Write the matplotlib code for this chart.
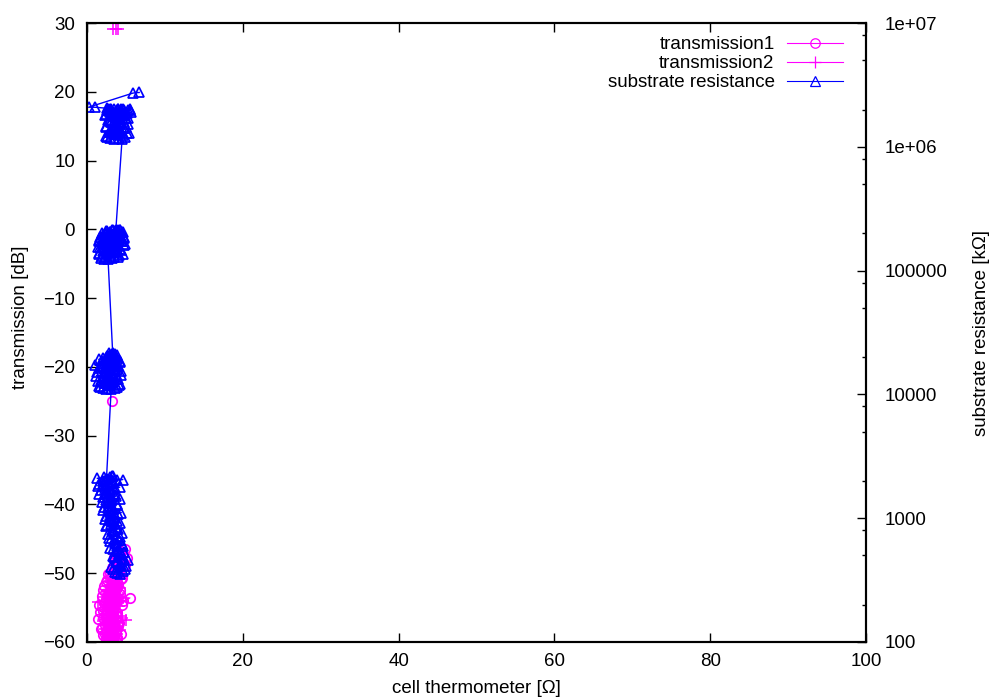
import numpy as np
import matplotlib
matplotlib.use("Agg")
import matplotlib.pyplot as plt
from matplotlib.ticker import LogLocator, NullFormatter, FixedLocator, FixedFormatter

plt.rcParams["font.family"] = ["Liberation Sans", "DejaVu Sans"]
plt.rcParams["font.size"] = 13.5

MAGENTA = "#ff00ff"
BLUE = "#0000ff"

# transmission1 [dB] vs cell thermometer [Ohm]
t1_x = [4.9, 4.2, 3.7, 5.1, 4.4, 3.9, 4.7, 3.3, 4.1, 2.9, 3.6, 4.5, 2.6, 3.2, 4.0, 2.2,
        3.5, 4.3, 2.8, 3.0, 1.9, 3.8, 2.4, 4.6, 3.1, 1.6, 2.7, 3.4, 5.5, 2.0, 3.9, 2.5,
        3.3, 1.4, 2.9, 4.1, 2.3, 3.6, 1.8, 3.0, 2.6, 4.4, 2.1, 3.5, 2.8, 3.8, 2.4, 3.2,
        2.7, 3.9, 2.6, 3.4, 4.0, 2.9, 3.1,
        4.0, 4.6, 3.5, 4.3, 3.8, 4.9, 3.2, 4.1, 2.7, 3.7, 4.4, 2.4, 3.1, 3.9, 2.0, 3.4,
        4.2, 2.6, 3.0, 3.6, 2.2, 4.5, 2.8, 3.3, 1.7, 2.5, 3.8, 2.1, 3.1, 4.0, 2.7, 3.5,
        1.9, 2.9, 3.7, 2.3, 3.2, 3.9, 2.8, 3.4]
t1_db = [-46.5, -47.0, -47.4, -47.8, -48.2, -48.6, -49.0, -49.3, -49.7, -50.0, -50.4,
         -50.7, -51.0, -51.3, -51.6, -51.9, -52.2, -52.5, -52.8, -53.1, -53.3, -53.5,
         -53.8, -54.1, -54.4, -54.6, -54.9, -55.2, -53.6, -55.5, -55.8, -56.1, -56.4,
         -56.7, -57.0, -57.2, -57.5, -57.8, -58.1, -58.3, -58.6, -58.8, -59.0, -59.2,
         -59.4, -59.5, -59.7, -59.8, -59.9, -59.6, -59.1, -58.5, -57.6, -56.9, -55.9,
         -46.8, -47.2, -47.6, -48.0, -48.4, -48.8, -49.2, -49.6, -50.1, -50.5, -50.9,
         -51.3, -51.7, -52.1, -52.4, -52.7, -53.0, -53.3, -53.7, -54.0, -54.3, -54.6,
         -55.0, -55.3, -55.6, -55.9, -56.2, -56.5, -56.8, -57.1, -57.4, -57.7, -58.0,
         -58.3, -58.6, -58.9, -59.2, -59.4, -59.7, -59.9]
t1_out_x = [3.2]
t1_out_db = [-25.0]

# transmission2 [dB]
t2_x = [4.6, 4.0, 3.6, 4.8, 4.3, 3.8, 3.4, 4.5, 3.1, 3.9, 2.8, 4.2, 3.3, 2.5, 3.7, 4.6,
        2.9, 2.2, 3.5, 4.1, 2.7, 1.4, 3.2, 3.8, 2.4, 4.4, 3.0, 2.0, 3.6, 2.6, 5.0, 3.3,
        2.3, 3.9, 2.8, 3.5, 4.2, 3.1, 2.6, 3.7, 3.4, 2.9, 4.0,
        4.3, 3.9, 4.7, 3.5, 4.1, 3.2, 3.7, 4.4, 2.9, 3.4, 4.0, 2.6, 3.1, 3.8, 2.3, 3.3,
        4.3, 2.7, 3.0, 3.6, 2.1, 3.9, 2.5, 3.2, 4.5, 2.8, 3.5, 2.2, 3.0, 3.7, 2.6, 3.3,
        3.9, 2.9, 3.6]
t2_db = [-47.0, -47.6, -48.1, -48.6, -49.1, -49.6, -50.1, -50.5, -51.0, -51.4, -51.8,
         -52.2, -52.6, -53.0, -53.3, -53.6, -54.0, -54.2, -54.5, -54.8, -55.1, -54.2,
         -55.4, -55.7, -56.0, -56.3, -56.6, -56.9, -57.2, -57.5, -56.8, -57.8, -58.1,
         -58.4, -58.7, -59.0, -58.2, -59.3, -59.5, -59.7, -59.9, -59.0, -58.0,
         -47.3, -47.8, -48.3, -48.8, -49.3, -49.8, -50.3, -50.8, -51.2, -51.6, -52.0,
         -52.4, -52.8, -53.2, -53.5, -53.8, -54.1, -54.4, -54.7, -55.0, -55.3, -55.6,
         -55.9, -56.2, -56.5, -56.8, -57.1, -57.4, -57.7, -58.0, -58.3, -58.6, -58.9,
         -59.2, -59.5]
t2_out_x = [3.4, 3.7, 4.0]
t2_out_db = [29.1, 29.1, 29.1]

# substrate resistance [kOhm], four plateaus plus a few stray points
r4_x = [3.9, 4.6, 3.4, 5.0, 4.2, 3.7, 4.8, 3.3, 4.4, 4.0, 3.0, 4.6, 3.6, 4.1, 2.8, 3.9,
        4.5, 3.2, 3.7, 2.6, 4.3, 3.0, 3.5, 2.4, 4.0, 2.9, 3.3, 2.2, 3.8, 2.7, 3.1, 4.3,
        2.0, 3.5, 2.5, 3.0, 1.8, 3.6, 2.3, 2.8, 1.5, 3.3, 2.1, 4.6, 2.6, 1.3, 3.0, 2.2,
        3.4, 3.2,
        4.2, 3.6, 4.9, 3.1, 4.4, 3.8, 5.2, 3.5, 4.1, 4.7, 3.3, 3.9, 4.5, 3.0, 3.6, 4.2,
        2.7, 3.4, 4.0, 2.5, 3.1, 3.8, 2.3, 2.9, 3.6, 4.4, 2.1, 2.7, 3.2, 3.9, 1.9, 2.5,
        3.0, 3.7, 1.6, 2.4, 2.9, 3.5, 4.2, 1.4, 2.0, 2.7, 3.3, 3.9, 2.5]
r4_k = [360, 375, 390, 410, 430, 450, 470, 495, 520, 545, 570, 600, 630, 660, 690, 720,
        760, 800, 840, 880, 920, 960, 1000, 1040, 1090, 1130, 1180, 1230, 1280, 1330,
        1380, 1430, 1480, 1530, 1580, 1630, 1690, 1750, 1800, 1850, 1900, 1950, 2000,
        2050, 2080, 2100, 2130, 2150, 2170, 2190,
        355, 370, 385, 400, 420, 440, 460, 485, 510, 535, 560, 590, 620, 650, 680, 710,
        745, 780, 820, 860, 900, 940, 980, 1020, 1060, 1110, 1160, 1210, 1260, 1310,
        1360, 1410, 1460, 1510, 1560, 1610, 1670, 1720, 1780, 1830, 1880, 1930, 1980,
        2030, 2080]
r3_x = [3.1, 2.0, 3.8, 1.5, 2.8, 4.3, 2.3, 3.4, 1.8, 4.0, 2.6, 3.2, 1.2, 3.7, 2.2, 4.4,
        2.9, 1.6, 3.5, 2.4, 1.0, 3.9, 2.7, 4.2, 1.9, 3.3, 2.5, 3.8, 2.1, 3.0, 3.6, 2.6,
        3.9, 3.2, 2.8,
        2.4, 3.6, 1.7, 3.0, 4.1, 2.2, 3.4, 1.4, 2.8, 3.9, 2.0, 3.3, 4.4, 2.5, 1.3, 3.1,
        3.8, 2.3, 4.0, 1.8, 2.9, 3.6, 2.1, 3.5, 4.3, 2.7, 1.5, 3.2, 2.4, 3.7, 2.8, 3.4,
        2.9, 3.6, 3.3]
r3_k = [11000, 11200, 11400, 11600, 11900, 12100, 12400, 12700, 13000, 13300, 13600,
        13900, 14200, 14600, 15000, 15400, 15800, 16200, 16600, 17000, 17300, 17600,
        17900, 18200, 18500, 18800, 19100, 19400, 19700, 20000, 20300, 20600, 20900,
        21200, 21500,
        11100, 11300, 11500, 11800, 12000, 12300, 12600, 12900, 13200, 13500, 13800,
        14100, 14400, 14800, 15200, 15600, 16000, 16400, 16800, 17100, 17400, 17700,
        18000, 18300, 18600, 18900, 19200, 19500, 19800, 20100, 20400, 20700, 21000,
        21300, 21400]
r2_x = [2.7, 1.8, 3.5, 2.3, 4.1, 1.6, 3.0, 3.8, 2.1, 4.4, 2.6, 1.4, 3.3, 4.7, 2.0, 3.9,
        2.8, 1.5, 4.5, 3.4, 2.2, 4.8, 1.7, 3.1, 4.2, 2.5, 3.7, 1.9, 4.6, 2.9, 3.6, 2.4,
        4.3, 3.2, 4.0,
        2.2, 3.2, 4.0, 1.9, 2.9, 4.6, 1.5, 3.6, 2.4, 4.2, 3.0, 1.7, 3.8, 2.6, 4.9, 2.1,
        3.4, 4.4, 1.6, 2.8, 3.9, 2.3, 4.7, 3.1, 2.0, 4.1, 2.7, 3.5, 4.5, 3.0, 3.8, 2.6,
        4.2, 3.4, 3.7]
r2_k = [124000, 126000, 128000, 130000, 133000, 136000, 139000, 142000, 145000, 148000,
        151000, 154000, 157000, 160000, 163000, 166000, 169000, 172000, 175000, 178000,
        181000, 184000, 187000, 190000, 193000, 196000, 199000, 202000, 204000, 206000,
        208000, 210000, 211000, 212000, 214000,
        125000, 127000, 129000, 131000, 134000, 137000, 140000, 143000, 146000, 149000,
        152000, 155000, 158000, 161000, 164000, 167000, 170000, 173000, 176000, 179000,
        182000, 185000, 188000, 191000, 194000, 197000, 200000, 203000, 205000, 207000,
        209000, 210500, 212000, 213000, 213500]
r1_x = [4.5, 3.0, 4.9, 2.5, 3.8, 5.1, 2.8, 4.2, 3.4, 4.7, 2.4, 3.9, 5.3, 3.1, 4.4, 2.7,
        5.0, 3.6, 4.1, 2.3, 4.8, 3.3, 5.6, 2.9, 4.3, 3.7, 5.2, 2.6, 4.0, 3.5, 5.5, 3.0,
        4.6, 2.7,
        3.5, 4.1, 2.6, 4.6, 3.2, 5.4, 2.9, 4.0, 3.6, 5.0, 2.5, 4.3, 3.3, 4.8, 2.8, 3.9,
        5.2, 3.0, 4.5, 2.4, 3.7, 5.1, 3.4, 4.2, 2.9, 4.7, 3.8, 5.5, 3.1, 4.4, 2.7, 4.0,
        2.6]
r1_k = [1.15e6, 1.17e6, 1.20e6, 1.23e6, 1.26e6, 1.29e6, 1.32e6, 1.35e6, 1.39e6, 1.42e6,
        1.46e6, 1.50e6, 1.54e6, 1.58e6, 1.62e6, 1.66e6, 1.70e6, 1.74e6, 1.78e6, 1.82e6,
        1.85e6, 1.88e6, 1.90e6, 1.92e6, 1.94e6, 1.96e6, 1.98e6, 2.00e6, 2.01e6, 2.02e6,
        2.03e6, 2.04e6, 2.03e6, 1.98e6,
        1.16e6, 1.18e6, 1.21e6, 1.24e6, 1.27e6, 1.30e6, 1.33e6, 1.37e6, 1.40e6, 1.44e6,
        1.48e6, 1.52e6, 1.56e6, 1.60e6, 1.64e6, 1.68e6, 1.72e6, 1.76e6, 1.80e6, 1.83e6,
        1.86e6, 1.89e6, 1.91e6, 1.93e6, 1.95e6, 1.97e6, 1.99e6, 2.00e6, 2.01e6, 2.02e6,
        2.03e6, 2.04e6, 2.05e6]
r_end_x = [1.0, 0.2, 5.9, 6.7]
r_end_k = [2.09e6, 2.09e6, 2.72e6, 2.75e6]

x_ticks = [0, 20, 40, 60, 80, 100]
y_ticks = [-60, -50, -40, -30, -20, -10, 0, 10, 20, 30]
y2_ticks = [1e2, 1e3, 1e4, 1e5, 1e6, 1e7]
y2_labels = ["100", "1000", "10000", "100000", "1e+06", "1e+07"]


def gap_join(xa, ya, xb, yb):
    # NaN break so the stray points are not joined to the main cloud
    return list(xa) + [np.nan] + list(xb), list(ya) + [np.nan] + list(yb)


fig = plt.figure(figsize=(10, 7), dpi=100)
ax = fig.add_axes([0.087, 0.083, 0.779, 0.884])
ax2 = ax.twinx()

mk = dict(markersize=6.8, markeredgewidth=1.25, linewidth=1.0)

x1, y1 = gap_join(t1_x, t1_db, t1_out_x, t1_out_db)
x2, y2 = gap_join(t2_x, t2_db, t2_out_x, t2_out_db)
h1, = ax.plot(x1, y1, color=MAGENTA, marker="o", markerfacecolor="none",
              label="transmission1", **mk)
h2, = ax.plot(x2, y2, color=MAGENTA, marker="+", label="transmission2",
              markersize=8.5, markeredgewidth=1.1, linewidth=1.0)

rx = r4_x + r3_x + r2_x + r1_x + r_end_x
rk = r4_k + r3_k + r2_k + r1_k + r_end_k
h3, = ax2.plot(rx, rk, color=BLUE, marker="^", markerfacecolor="none",
               label="substrate resistance", **mk)

ax.set_xlim(0, 100)
ax.set_ylim(-60, 30)
ax.set_xticks(x_ticks)
ax.set_yticks(y_ticks)
ax.set_xlabel("cell thermometer [Ω]", labelpad=7)
ax.set_ylabel("transmission [dB]")
ax.yaxis.set_label_coords(-0.074, 0.525)
ax.tick_params(direction="in", length=6.5, width=1, top=True, right=False, pad=8)
ax.tick_params(axis="y", pad=8.5)

ax2.set_yscale("log")
ax2.set_ylim(1e2, 1e7)
ax2.yaxis.set_major_locator(FixedLocator(y2_ticks))
ax2.yaxis.set_major_formatter(FixedFormatter(y2_labels))
ax2.yaxis.set_minor_locator(LogLocator(base=10, subs=(2, 5, 8)))
ax2.yaxis.set_minor_formatter(NullFormatter())
ax2.tick_params(which="major", direction="in", length=6.5, width=1, pad=13.5)
ax2.tick_params(which="minor", direction="in", length=3.2, width=1)
ax2.set_ylabel("substrate resistance [kΩ]", labelpad=18)

for a in (ax, ax2):
    for s in a.spines.values():
        s.set_linewidth(1.5)

leg = ax2.legend(handles=[h1, h2, h3], loc="upper right", frameon=False,
                 markerfirst=False, handlelength=3.0, handletextpad=0.65,
                 labelspacing=0.1, borderpad=0, borderaxespad=0,
                 bbox_to_anchor=(0.843, 1 - 36 / 700), bbox_transform=fig.transFigure)
for ln in leg.get_lines():
    ln.set_linewidth(0.8)
    ln.set_markeredgewidth(0.9)

fig.savefig("out.png", dpi=100)
